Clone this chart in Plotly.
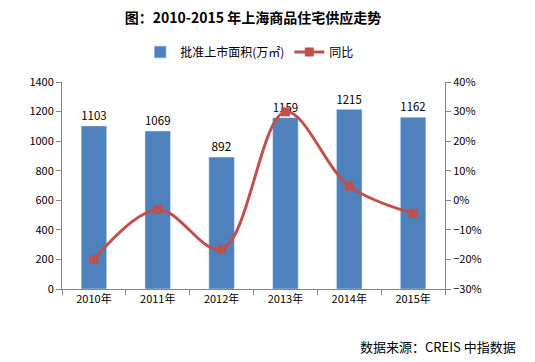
import plotly.graph_objects as go

years = ["2010年", "2011年", "2012年", "2013年", "2014年", "2015年"]
area = [1103, 1069, 892, 1159, 1215, 1162]
yoy = [-0.20, -0.031, -0.166, 0.299, 0.048, -0.044]

FONT = "Noto Sans CJK SC, Liberation Sans, sans-serif"
AX = "#868686"

fig = go.Figure()
fig.add_trace(go.Bar(
    x=years, y=area, name="批准上市面积(万㎡)",
    marker=dict(color="#4F81BD"), width=0.4,
    text=[str(v) for v in area], textposition="outside",
    textfont=dict(size=12, color="#000000", family=FONT),
    cliponaxis=False,
))
fig.add_trace(go.Scatter(
    x=years, y=yoy, name="同比", yaxis="y2",
    mode="lines+markers",
    line=dict(color="#C0504D", width=3, shape="spline", smoothing=1.0),
    marker=dict(symbol="square", size=9, color="#C0504D"),
))

# page body has an 8px margin, so the figure is sized to end at the window edge
fig.update_layout(
    width=527, height=354,
    margin=dict(l=54, r=90, t=74, b=73, autoexpand=False),
    paper_bgcolor="white", plot_bgcolor="white",
    font=dict(family=FONT, size=11, color="#000000"),
    title=dict(text="<b>图：2010-2015 年上海商品住宅供应走势</b>",
               x=0.465, xanchor="center", y=0.971, yanchor="middle",
               font=dict(size=14, color="#000000", family=FONT)),
    legend=dict(orientation="h", x=0.49, xanchor="center", y=1.145, yanchor="middle",
                font=dict(size=12, family=FONT), itemwidth=30, traceorder="normal"),
    showlegend=True,
    xaxis=dict(type="category", showline=True, linecolor=AX, linewidth=1,
               ticks="outside", tickcolor=AX, ticklen=5, tickson="boundaries",
               showgrid=False, tickfont=dict(size=11), automargin=False),
    yaxis=dict(range=[0, 1400], dtick=200, showline=True, linecolor=AX, linewidth=1,
               ticks="outside", tickcolor=AX, ticklen=5, showgrid=False, zeroline=False,
               tickfont=dict(size=11), automargin=False),
    yaxis2=dict(range=[-0.3, 0.4], dtick=0.1, tickformat=".0%", overlaying="y", side="right",
                showline=True, linecolor=AX, linewidth=1, ticks="outside", tickcolor=AX,
                ticklen=5, showgrid=False, zeroline=False, tickfont=dict(size=11),
                automargin=False),
    annotations=[dict(text="数据来源：CREIS 中指数据", xref="paper", yref="paper",
                      x=1.19, y=-0.28, xanchor="right", yanchor="middle", showarrow=False,
                      font=dict(size=13, family=FONT, color="#000000"))],
)

fig.write_html("out.html")
